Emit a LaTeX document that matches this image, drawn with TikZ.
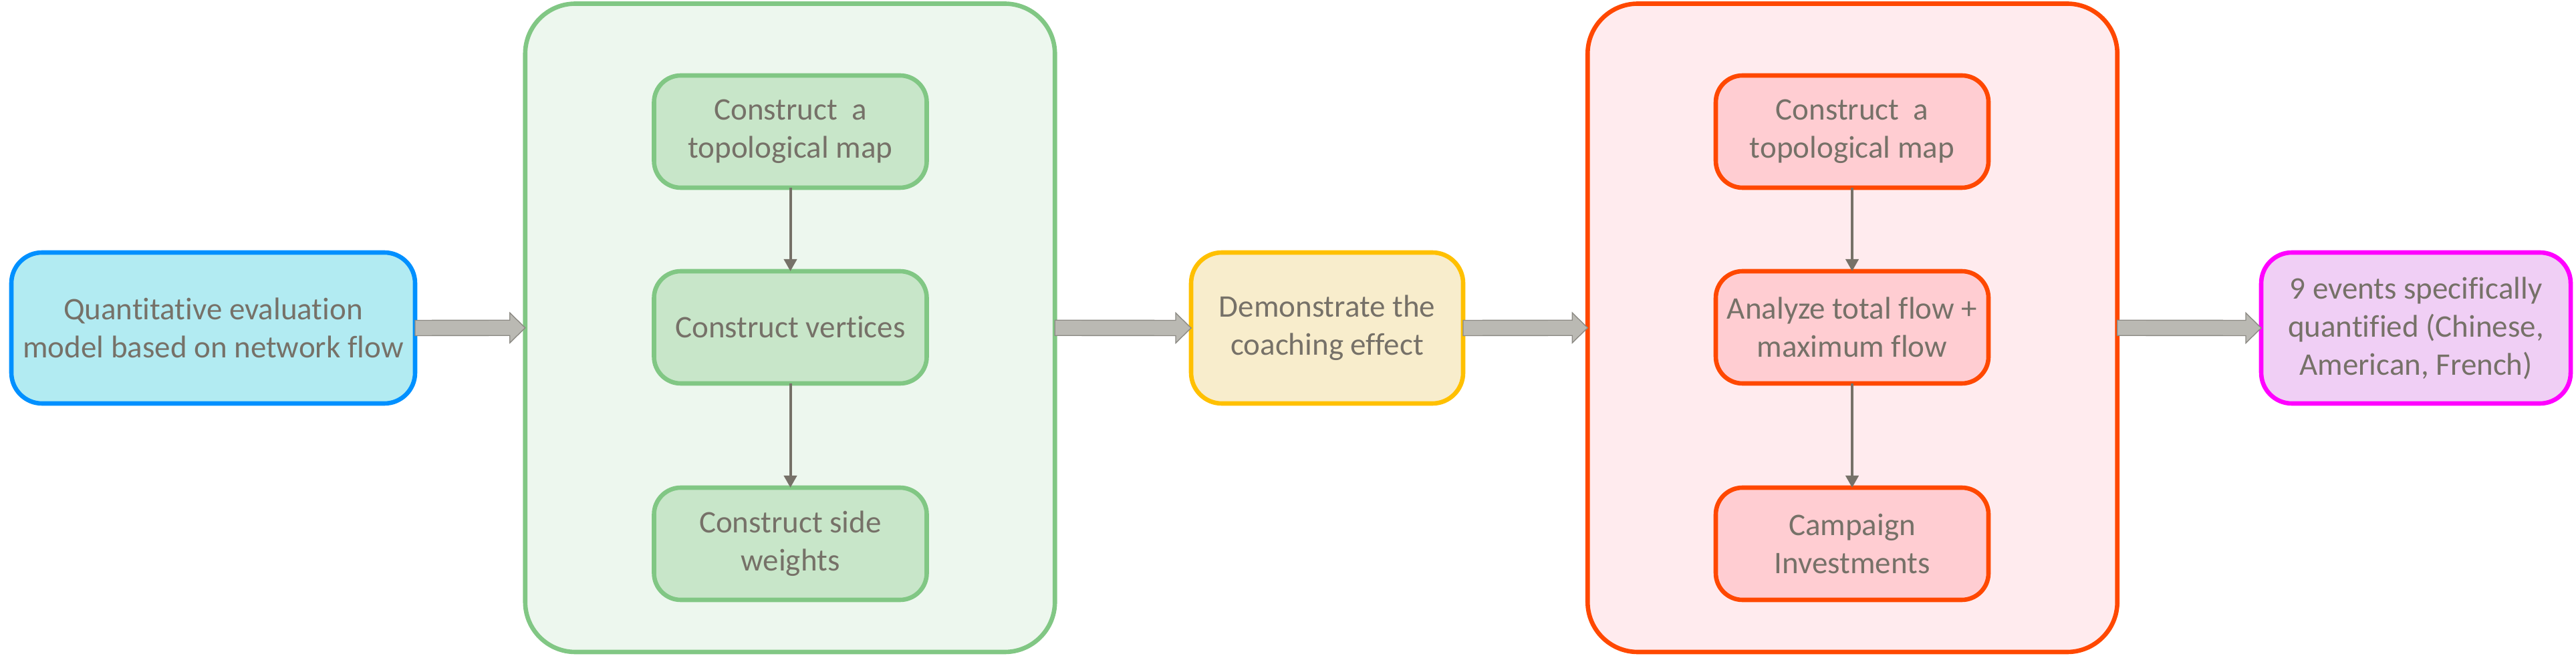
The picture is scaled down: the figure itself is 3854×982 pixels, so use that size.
\documentclass[tikz,border=0pt]{standalone}
\usepackage{fontspec}
\setmainfont[Ligatures=NoCommon]{Carlito}
\usetikzlibrary{arrows.meta,calc}
\definecolor{txtcol}{HTML}{767168}
\definecolor{bluefill}{HTML}{B2EBF2}
\definecolor{blueline}{HTML}{0090FF}
\definecolor{greenouter}{HTML}{EDF7EE}
\definecolor{greeninner}{HTML}{C8E6C9}
\definecolor{greenline}{HTML}{81C784}
\definecolor{yellowfill}{HTML}{F8EDCC}
\definecolor{yellowline}{HTML}{FFC000}
\definecolor{redouter}{HTML}{FFEBEE}
\definecolor{redinner}{HTML}{FFCDD2}
\definecolor{redline}{HTML}{FF4800}
\definecolor{magfill}{HTML}{F0CFF5}
\definecolor{magline}{HTML}{FF00FF}
\definecolor{arrowfill}{HTML}{BAB9B3}
\definecolor{arrowline}{HTML}{8C8A84}
\definecolor{smallarrowcol}{HTML}{767168}
\newcommand\fatarrow[2]{%
  \filldraw[fatarrowstyle] ($(#1.east)+(0,-11.5)$) -- ($(#2.west)+(-23,-11.5)$)
    -- ($(#2.west)+(-23,-22.5)$) -- (#2.west) -- ($(#2.west)+(-23,22.5)$)
    -- ($(#2.west)+(-23,11.5)$) -- ($(#1.east)+(0,11.5)$) -- cycle;}
\begin{document}
\begin{tikzpicture}[x=0.25pt,y=-0.25pt,
  basebox/.style={draw, line width=1.65pt, outer sep=0pt, inner sep=0pt,
    align=center, text=txtcol, font=\fontsize{11.75pt}{14.25pt}\selectfont},
  sidebox/.style={basebox, rounded corners=11.5pt, minimum height=56.5pt},
  container/.style={draw, line width=1.65pt, outer sep=0pt, inner sep=0pt,
    rounded corners=18.75pt, minimum width=198.125pt, minimum height=242.625pt},
  stepbox/.style={basebox, rounded corners=10pt, minimum width=102pt, minimum height=42pt},
  greenstep/.style={stepbox, fill=greeninner, draw=greenline},
  redstep/.style={stepbox, fill=redinner, draw=redline},
  fatarrowstyle/.style={fill=arrowfill, draw=arrowline, line width=0.35pt},
  smallarrow/.style={draw=smallarrowcol, line width=1pt,
    -{Triangle[length=4.5pt, width=4.75pt]}, smallarrowcol}
]
\useasboundingbox (0,0) rectangle (3854,982);

% left input box
\node[sidebox, fill=bluefill, draw=blueline, minimum width=151pt] (input) at (319,491)
  {Quantitative evaluation\\model based on network flow};

% green container
\node[container, fill=greenouter, draw=greenline] (gcont) at (1182,490.75) {};
\node[greenstep] (g1) at (1182.5,197) {Construct~~a\\topological map};
\node[greenstep] (g2) at (1182.5,490) {Construct vertices};
\node[greenstep] (g3) at (1182.5,814) {Construct side\\weights};
\draw[smallarrow] (g1.south) -- (g2.north);
\draw[smallarrow] (g2.south) -- (g3.north);

% middle box
\node[sidebox, fill=yellowfill, draw=yellowline, minimum width=101.75pt] (demo) at (1985.5,491)
  {Demonstrate the\\coaching effect};

% red container
\node[container, fill=redouter, draw=redline] (rcont) at (2771.5,490.75) {};
\node[redstep] (r1) at (2771,197) {Construct~~a\\topological map};
\node[redstep] (r2) at (2771,490) {Analyze total flow +\\maximum flow};
\node[redstep] (r3) at (2771,814) {Campaign\\Investments};
\draw[smallarrow] (r1.south) -- (r2.north);
\draw[smallarrow] (r2.south) -- (r3.north);

% output box
\node[sidebox, fill=magfill, draw=magline, minimum width=115.75pt] (events) at (3614.5,491)
  {9 events specifically\\quantified (Chinese,\\American, French)};

% big arrows
\fatarrow{input}{gcont}
\fatarrow{gcont}{demo}
\fatarrow{demo}{rcont}
\fatarrow{rcont}{events}
\end{tikzpicture}
\end{document}
